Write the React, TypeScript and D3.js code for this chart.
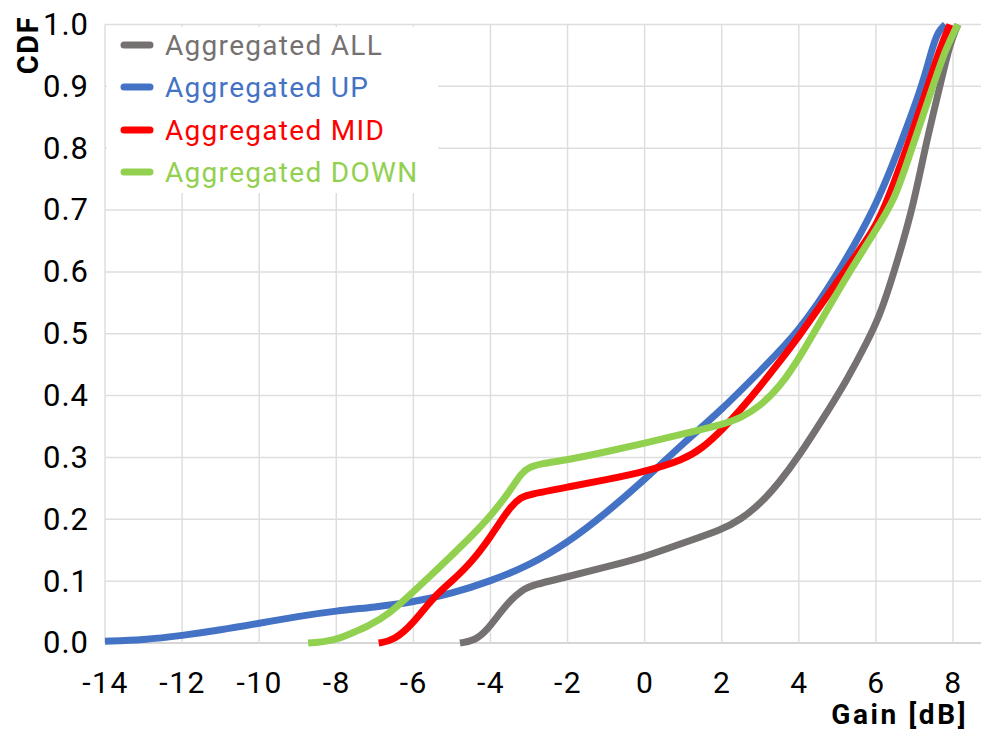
import React, { useRef, useEffect } from "react";
import * as d3 from "d3";

// ---- data ----
const xTicks = [-14, -12, -10, -8, -6, -4, -2, 0, 2, 4, 6, 8];
const yTicks = [0, 0.1, 0.2, 0.3, 0.4, 0.5, 0.6, 0.7, 0.8, 0.9, 1.0];

const allGain = [-4.79, -4.4, -4.1, -3.8, -3.5, -3.2, -2.9, -2, -1, 0, 1, 2, 2.5, 3, 3.5, 4, 4.6, 5.25, 5.8, 6.1, 6.41, 6.95, 7.27, 7.66, 7.92, 8.13];
const allCdf = [0, 0.004, 0.02, 0.045, 0.068, 0.085, 0.094, 0.107, 0.123, 0.139, 0.162, 0.183, 0.2, 0.225, 0.26, 0.302, 0.36, 0.425, 0.49, 0.53, 0.587, 0.7, 0.8, 0.9, 0.97, 1.0];

const upGain = [-14, -13, -12, -11, -10, -9, -8, -7, -6, -5, -4, -3, -2, -1, 0, 1, 2, 3, 4, 5, 6, 6.6, 7.2, 7.45, 7.62, 7.8];
const upCdf = [0.003, 0.005, 0.012, 0.021, 0.032, 0.043, 0.052, 0.058, 0.066, 0.08, 0.1, 0.125, 0.162, 0.21, 0.264, 0.323, 0.377, 0.44, 0.503, 0.595, 0.705, 0.8, 0.9, 0.96, 0.99, 1.0];

const midGain = [-6.9, -6.5, -6.0, -5.5, -5.0, -4.5, -4.0, -3.5, -3.2, -3.0, -2, -1, 0, 1, 1.5, 2, 2.5, 3, 3.5, 4, 5, 6, 6.3, 6.8, 7.35, 7.65, 7.92];
const midCdf = [0, 0.004, 0.032, 0.073, 0.1, 0.13, 0.171, 0.22, 0.236, 0.24, 0.252, 0.264, 0.277, 0.296, 0.315, 0.344, 0.378, 0.415, 0.455, 0.495, 0.585, 0.671, 0.716, 0.8, 0.9, 0.96, 1.0];

const downGain = [-8.73, -8.1, -7.6, -7.2, -6.6, -6.0, -5.5, -5.0, -4.5, -4.0, -3.5, -3.2, -3.0, -2.7, -2, -1, 0, 1, 2, 2.5, 3, 3.5, 4, 5.07, 6, 6.49, 6.93, 7.48, 7.8, 8.13];
const downCdf = [0, 0.003, 0.016, 0.026, 0.048, 0.083, 0.112, 0.142, 0.172, 0.205, 0.245, 0.275, 0.284, 0.29, 0.296, 0.309, 0.323, 0.338, 0.353, 0.364, 0.383, 0.414, 0.458, 0.576, 0.668, 0.716, 0.8, 0.9, 0.96, 1.0];

const seriesNames = ["Aggregated ALL", "Aggregated UP", "Aggregated MID", "Aggregated DOWN"];
const seriesColors = ["#767171", "#4472C4", "#FF0000", "#92D050"];

const FONT = "Roboto, 'DejaVu Sans', sans-serif";

const App: React.FC = () => {
    const svgRef = useRef<SVGSVGElement | null>(null);
    const width = 981;
    const height = 731;

    useEffect(() => {
        if (!svgRef.current) return;
        const svg = d3.select(svgRef.current);
        svg.selectAll("*").remove();

        const plotLeft = 105;
        const plotRight = 981;
        const x = d3.scaleLinear().domain([-14, 8]).range([105, 953]);
        const y = d3.scaleLinear().domain([0, 1]).range([643, 24.5]);

        svg.append("rect").attr("width", width).attr("height", height).attr("fill", "#fff");

        // grid
        const grid = svg.append("g");
        grid.selectAll(".hg")
            .data(yTicks)
            .enter()
            .append("line")
            .attr("x1", plotLeft)
            .attr("x2", plotRight)
            .attr("y1", (d) => y(d))
            .attr("y2", (d) => y(d))
            .attr("stroke", (d) => (d === 0 ? "#c8c8c8" : "#dedede"))
            .attr("stroke-width", 1.5);
        grid.selectAll(".vg")
            .data(xTicks)
            .enter()
            .append("line")
            .attr("x1", (d) => x(d))
            .attr("x2", (d) => x(d))
            .attr("y1", y(1))
            .attr("y2", y(0))
            .attr("stroke", "#dedede")
            .attr("stroke-width", 1.5);

        // axes (labels only)
        const xAxis = svg
            .append("g")
            .attr("transform", `translate(0,${y(0) + 26})`)
            .call(d3.axisBottom(x).tickValues(xTicks).tickSize(0).tickFormat((d) => String(d)));
        xAxis.select(".domain").remove();
        xAxis.selectAll("text")
            .attr("font-family", FONT)
            .attr("font-size", 30)
            .attr("letter-spacing", 1.5)
            .attr("fill", "#000");

        const yAxis = svg
            .append("g")
            .attr("transform", `translate(${plotLeft - 13},0)`)
            .call(d3.axisLeft(y).tickValues(yTicks).tickSize(0).tickFormat(d3.format(".1f")));
        yAxis.select(".domain").remove();
        yAxis.selectAll("text")
            .attr("font-family", FONT)
            .attr("font-size", 31)
            .attr("letter-spacing", 1)
            .attr("fill", "#000");

        // curves
        const series = [
            { gain: allGain, cdf: allCdf },
            { gain: upGain, cdf: upCdf },
            { gain: midGain, cdf: midCdf },
            { gain: downGain, cdf: downCdf },
        ];
        const line = d3
            .line<[number, number]>()
            .x((d) => x(d[0]))
            .y((d) => y(d[1]))
            .curve(d3.curveBasis);

        series.forEach((s, i) => {
            const pts = s.gain.map((g, j) => [g, s.cdf[j]] as [number, number]);
            svg.append("path")
                .attr("d", line(pts))
                .attr("fill", "none")
                .attr("stroke", seriesColors[i])
                .attr("stroke-width", 7)
                .attr("stroke-linejoin", "round")
                .attr("stroke-linecap", "butt");
        });

        // legend
        svg.append("rect")
            .attr("x", 107)
            .attr("y", 27)
            .attr("width", 331)
            .attr("height", 166)
            .attr("fill", "#fff");
        const legendY = [45, 87, 130, 172];
        seriesNames.forEach((name, i) => {
            svg.append("line")
                .attr("x1", 124)
                .attr("x2", 150)
                .attr("y1", legendY[i])
                .attr("y2", legendY[i])
                .attr("stroke", seriesColors[i])
                .attr("stroke-width", 7)
                .attr("stroke-linecap", "round");
            svg.append("text")
                .attr("x", 165)
                .attr("y", legendY[i])
                .attr("dominant-baseline", "central")
                .attr("font-family", FONT)
                .attr("font-size", 28)
                .attr("letter-spacing", 1.3)
                .attr("fill", seriesColors[i])
                .text(name);
        });

        // axis titles
        svg.append("text")
            .attr("x", 968)
            .attr("y", 724)
            .attr("text-anchor", "end")
            .attr("font-family", FONT)
            .attr("font-weight", "bold")
            .attr("font-size", 28)
            .attr("letter-spacing", 2.6)
            .attr("fill", "#000")
            .text("Gain [dB]");
        svg.append("text")
            .attr("transform", "translate(38,45) rotate(-90)")
            .attr("text-anchor", "middle")
            .attr("font-family", FONT)
            .attr("font-weight", "bold")
            .attr("font-size", 29)
            .attr("letter-spacing", 1.5)
            .attr("fill", "#000")
            .text("CDF");
    }, []);

    return (
        <svg
            ref={svgRef}
            width={width}
            height={height}
            style={{ position: "absolute", left: 0, top: 0 }}
        ></svg>
    );
};

export default App;
